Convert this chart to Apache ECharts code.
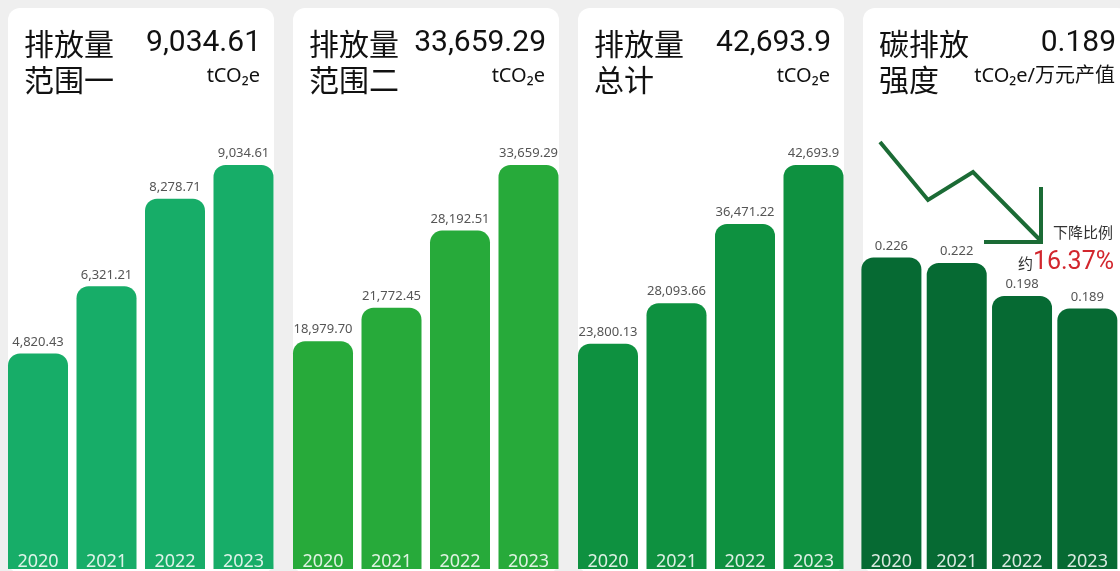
<!DOCTYPE html>
<html>
<head>
<meta charset="utf-8">
<script src="https://cdn.jsdelivr.net/npm/echarts@6/dist/echarts.min.js"></script>
<style>
    html, body { margin: 0; padding: 0; background: #efefef; }
    #chart { width: 1120px; height: 571px; }
</style>
</head>
<body>
<div id="chart"></div>
<script>
// 年份
const years = ['2020', '2021', '2022', '2023']
// 范围一 / 范围二 / 总计 (tCO2e), 强度 (tCO2e/万元产值)
const scope1 = [4820.43, 6321.21, 8278.71, 9034.61]
const scope2 = [18979.70, 21772.45, 28192.51, 33659.29]
const totalEmission = [23800.13, 28093.66, 36471.22, 42693.9]
const intensity = [0.226, 0.222, 0.198, 0.189]
const cardTitles = ['排放量\n范围一', '排放量\n范围二', '排放量\n总计', '碳排放\n强度']
const cardUnits = ['tCO₂e', 'tCO₂e', 'tCO₂e', 'tCO₂e/万元产值']
const dropLabel = '下降比例'
const dropRate = '16.37%'

const chartInstance = echarts.init(document.getElementById('chart'))

const allData = [scope1, scope2, totalEmission, intensity]
const decimals = [2, 2, 1, 3] // 标签最少保留的小数位
const barColors = ['#17ad68', '#27aa3a', '#0e9140', '#066a33']
const cardLeft = [8, 293, 578, 863]
const cardWidth = 266
const fontFamily = "'Noto Sans', 'Noto Sans CJK SC', sans-serif"
const numFont = "Roboto, 'Noto Sans', sans-serif"

const fmt = (v, i) => v.toLocaleString('en-US', {
    minimumFractionDigits: decimals[i],
    maximumFractionDigits: 3,
})

const grids = []
const xAxes = []
const yAxes = []
const series = []
const graphics = []

allData.forEach((data, i) => {
    // 卡片背景
    graphics.push({
        type: 'rect',
        z: -10,
        shape: { x: cardLeft[i], y: 8, width: cardWidth, height: 565, r: 12 },
        style: { fill: '#ffffff' },
    })
    // 标题
    graphics.push({
        type: 'text',
        x: cardLeft[i] + 16,
        y: 62,
        style: {
            text: cardTitles[i],
            font: "30px 'Noto Sans CJK SC'",
            lineHeight: 36,
            fill: '#111',
            verticalAlign: 'middle',
        },
    })
    // 最新数值
    graphics.push({
        type: 'text',
        x: cardLeft[i] + cardWidth - 13,
        y: 43,
        style: {
            text: fmt(data[data.length - 1], i),
            font: '30px ' + numFont,
            fill: '#111',
            align: 'right',
            verticalAlign: 'middle',
        },
    })
    // 单位
    graphics.push({
        type: 'text',
        x: cardLeft[i] + cardWidth - 14,
        y: 76,
        style: {
            text: cardUnits[i],
            font: '20px ' + fontFamily,
            fill: '#111',
            align: 'right',
            verticalAlign: 'middle',
        },
    })

    grids.push({
        left: cardLeft[i] - 4.25,
        width: 274,
        top: 165,
        height: 412,
        containLabel: false,
    })
    xAxes.push({
        type: 'category',
        gridIndex: i,
        data: years,
        z: 10,
        axisLine: { show: false },
        axisTick: { show: false },
        axisLabel: {
            inside: true,
            margin: 7,
            verticalAlign: 'middle',
            color: 'rgba(255,255,255,0.85)',
            fontSize: 18,
            fontFamily: fontFamily,
        },
    })
    yAxes.push({
        type: 'value',
        gridIndex: i,
        min: 0,
        max: i === 3 ? 0.293 : 'dataMax',
        show: false,
        splitLine: { show: false },
    })
    series.push({
        type: 'bar',
        xAxisIndex: i,
        yAxisIndex: i,
        data: data,
        barWidth: 60,
        itemStyle: {
            color: barColors[i],
            borderRadius: [12, 12, 0, 0],
        },
        label: {
            show: true,
            position: 'top',
            distance: 5,
            color: '#555',
            fontSize: 13,
            fontFamily: fontFamily,
            formatter: (p) => fmt(p.value, i),
        },
    })
})

// 强度下降的箭头
graphics.push({
    type: 'polyline',
    shape: { points: [[880, 142], [928, 200], [973, 172], [1040, 240]] },
    style: { stroke: '#1b6b35', lineWidth: 4, fill: null },
})
graphics.push({
    type: 'polyline',
    shape: { points: [[1041, 187], [1041, 242], [984, 242]] },
    style: { stroke: '#1b6b35', lineWidth: 4, fill: null },
})
graphics.push({
    type: 'text',
    x: 1113,
    y: 232,
    style: {
        text: dropLabel,
        font: "15px 'Noto Sans CJK SC'",
        fill: '#333',
        align: 'right',
        verticalAlign: 'middle',
    },
})
graphics.push({
    type: 'text',
    x: 1114,
    y: 263,
    style: {
        text: '{a|约}{b|' + dropRate + '}',
        align: 'right',
        verticalAlign: 'middle',
        rich: {
            a: { font: "15px 'Noto Sans CJK SC'", fill: '#333' },
            b: { font: '25px ' + numFont, fill: '#d2262d' },
        },
    },
})

chartInstance.setOption({
    backgroundColor: '#efefef',
    animation: false,
    grid: grids,
    xAxis: xAxes,
    yAxis: yAxes,
    series: series,
    graphic: graphics,
})
</script>
</body>
</html>
